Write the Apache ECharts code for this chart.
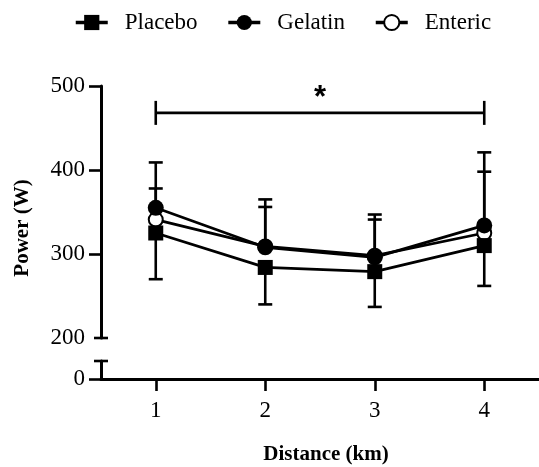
<!DOCTYPE html>
<html>
<head>
<meta charset="utf-8">
<script src="https://cdn.jsdelivr.net/npm/echarts@6/dist/echarts.min.js"></script>
<style>html,body{margin:0;padding:0;background:#fff}#c{width:539px;height:467px}</style>
</head>
<body>
<div id="c"></div>
<script>
// ---- data ----
const categories = [1, 2, 3, 4];
const placebo = [325, 284, 279, 310];
const placeboErrLow = [55, 44, 42, 48];
const gelatin = [355, 308, 296, 334];
const gelatinErrHigh = [54, 57, 51, 87];
const enteric = [341, 309, 298, 325];
const entericErrHigh = [37, 47, 43, 73];
const yTicksUpper = [200, 300, 400, 500];
const yTicksLower = [0];
const bracketFrom = 1;
const bracketTo = 4;
const bracketValue = 468;
const bracketLabel = '*';

const serif = '"Liberation Serif", "Times New Roman", serif';
const chart = echarts.init(document.getElementById('c'));

function errData(vals, errs, dir) {
  return categories.map((c, i) => [c, vals[i], vals[i] + dir * errs[i]]);
}
function errRender(params, api) {
  const x = api.value(0);
  const a = api.coord([x, api.value(1)]);
  const b = api.coord([x, api.value(2)]);
  const st = { stroke: '#000', lineWidth: 2.6 };
  return {
    type: 'group',
    children: [
      { type: 'line', shape: { x1: a[0], y1: a[1], x2: b[0], y2: b[1] }, style: st },
      { type: 'line', shape: { x1: b[0] - 7, y1: b[1], x2: b[0] + 7, y2: b[1] }, style: st }
    ]
  };
}
function capRender(params, api) {
  const p = api.coord([api.value(0), api.value(1)]);
  return { type: 'line', shape: { x1: p[0] - 7, y1: p[1], x2: p[0] + 7, y2: p[1] }, style: { stroke: '#000', lineWidth: 2.6 } };
}
function bracketRender(params, api) {
  const a = api.coord([api.value(0), api.value(2)]);
  const b = api.coord([api.value(1), api.value(2)]);
  const st = { stroke: '#000', lineWidth: 2.6 };
  return {
    type: 'group',
    children: [
      { type: 'line', shape: { x1: a[0], y1: a[1], x2: b[0], y2: b[1] }, style: st },
      { type: 'line', shape: { x1: a[0], y1: a[1] - 12, x2: a[0], y2: a[1] + 12 }, style: st },
      { type: 'line', shape: { x1: b[0], y1: b[1] - 12, x2: b[0], y2: b[1] + 12 }, style: st },
      { type: 'text', style: { text: bracketLabel, x: (a[0] + b[0]) / 2, y: a[1] + 1, font: 'bold 31px "Liberation Sans", Arial, sans-serif', fill: '#000', textAlign: 'center', textVerticalAlign: 'bottom' } }
    ]
  };
}

const lineSeries = (name, data, symbol, size, z) => ({
  name, type: 'line', xAxisIndex: 0, yAxisIndex: 0,
  data: categories.map((c, i) => [c, data[i]]),
  symbol, symbolSize: size, z,
  color: '#000',
  lineStyle: { color: '#000', width: 2.8 },
  itemStyle: { color: '#000', borderColor: '#000', borderWidth: symbol === 'emptyCircle' ? 2.8 : 0 },
  emphasis: { disabled: true },
  animation: false
});

chart.setOption({
  animation: false,
  backgroundColor: '#fff',
  legend: {
    data: ['Placebo', 'Gelatin', 'Enteric'],
    left: 69, top: 6,
    itemWidth: 32, itemHeight: 19, itemGap: 29,
    lineStyle: { width: 3.5 },
    textStyle: { fontFamily: serif, fontSize: 23, color: '#000', padding: [0, 0, 0, 12] }
  },
  grid: [
    { left: 101, top: 86, width: 438, height: 252 },
    { left: 101, top: 361, width: 438, height: 18 }
  ],
  xAxis: [
    { type: 'value', gridIndex: 0, min: 0.5, max: 4.5, show: false },
    {
      type: 'value', gridIndex: 1, min: 0.5, max: 4.5,
      axisLine: { show: true, lineStyle: { color: '#000', width: 3 } },
      axisTick: { show: true, customValues: categories, length: 12, lineStyle: { color: '#000', width: 2.6 } },
      axisLabel: { customValues: categories, margin: 20, fontFamily: serif, fontSize: 23, color: '#000' },
      splitLine: { show: false }
    }
  ],
  yAxis: [
    {
      type: 'value', gridIndex: 0, min: 200, max: 500, interval: 100,
      axisLine: { show: true, lineStyle: { color: '#000', width: 3 } },
      axisTick: { show: true, customValues: [300, 400, 500], length: 12, lineStyle: { color: '#000', width: 2.6 } },
      axisLabel: { customValues: yTicksUpper, margin: 16, fontFamily: serif, fontSize: 23, color: '#000' },
      splitLine: { show: false }
    },
    {
      type: 'value', gridIndex: 1, min: 0, max: 21.4,
      axisLine: { show: true, lineStyle: { color: '#000', width: 3 } },
      axisTick: { show: true, customValues: yTicksLower, length: 12, lineStyle: { color: '#000', width: 2.6 } },
      axisLabel: { customValues: yTicksLower, margin: 16, fontFamily: serif, fontSize: 23, color: '#000' },
      splitLine: { show: false }
    }
  ],
  graphic: [
    { type: 'text', x: 23, y: 228, rotation: Math.PI / 2, style: { text: 'Power (W)', font: 'bold 21px ' + serif, fill: '#000', textAlign: 'center', textVerticalAlign: 'middle' } },
    { type: 'text', x: 326, y: 455, style: { text: 'Distance (km)', font: 'bold 21px ' + serif, fill: '#000', textAlign: 'center', textVerticalAlign: 'middle' } }
  ],
  series: [
    { type: 'custom', xAxisIndex: 0, yAxisIndex: 0, renderItem: errRender, data: errData(placebo, placeboErrLow, -1), z: 1, silent: true },
    { type: 'custom', xAxisIndex: 0, yAxisIndex: 0, renderItem: errRender, data: errData(gelatin, gelatinErrHigh, 1), z: 1, silent: true },
    { type: 'custom', xAxisIndex: 0, yAxisIndex: 0, renderItem: errRender, data: errData(enteric, entericErrHigh, 1), z: 1, silent: true },
    { type: 'custom', xAxisIndex: 0, yAxisIndex: 0, renderItem: capRender, data: [[0.5, 200]], z: 3, silent: true },
    { type: 'custom', xAxisIndex: 1, yAxisIndex: 1, renderItem: capRender, data: [[0.5, 21.4]], z: 3, silent: true },
    { type: 'custom', xAxisIndex: 0, yAxisIndex: 0, renderItem: bracketRender, data: [[bracketFrom, bracketTo, bracketValue]], z: 3, silent: true },
    lineSeries('Placebo', placebo, 'rect', 15, 3),
    lineSeries('Gelatin', gelatin, 'circle', 16, 4),
    lineSeries('Enteric', enteric, 'emptyCircle', 14, 2)
  ]
});
</script>
</body>
</html>
